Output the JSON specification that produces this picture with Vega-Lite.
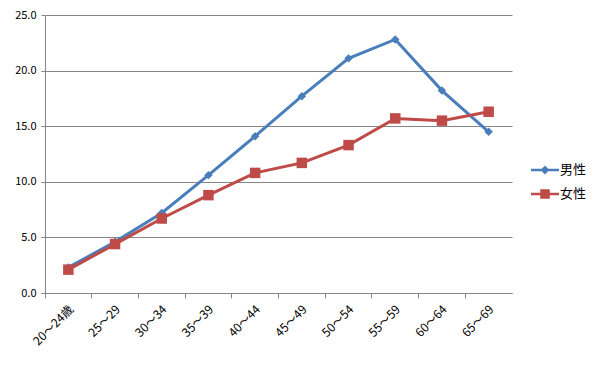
{
  "$schema": "https://vega.github.io/schema/vega-lite/v6.json",
  "autosize": "none",
  "width": 467,
  "height": 278,
  "padding": {"left": 45, "top": 15, "right": 94, "bottom": 72},
  "background": "white",
  "config": {
    "view": {"stroke": null},
    "font": "Noto Sans CJK JP",
    "axis": {"labelFont": "Noto Sans CJK JP", "labelColor": "#000000", "labelFontSize": 11, "domainColor": "#868686", "tickColor": "#868686", "gridColor": "#868686", "gridOpacity": 1}
  },
  "data": {"values": [
    {"age": "20～24歳", "sex": "男性", "v": 2.3},
    {"age": "25～29", "sex": "男性", "v": 4.6},
    {"age": "30～34", "sex": "男性", "v": 7.2},
    {"age": "35～39", "sex": "男性", "v": 10.6},
    {"age": "40～44", "sex": "男性", "v": 14.1},
    {"age": "45～49", "sex": "男性", "v": 17.7},
    {"age": "50～54", "sex": "男性", "v": 21.1},
    {"age": "55～59", "sex": "男性", "v": 22.8},
    {"age": "60～64", "sex": "男性", "v": 18.2},
    {"age": "65～69", "sex": "男性", "v": 14.5},
    {"age": "20～24歳", "sex": "女性", "v": 2.1},
    {"age": "25～29", "sex": "女性", "v": 4.4},
    {"age": "30～34", "sex": "女性", "v": 6.7},
    {"age": "35～39", "sex": "女性", "v": 8.8},
    {"age": "40～44", "sex": "女性", "v": 10.8},
    {"age": "45～49", "sex": "女性", "v": 11.7},
    {"age": "50～54", "sex": "女性", "v": 13.3},
    {"age": "55～59", "sex": "女性", "v": 15.7},
    {"age": "60～64", "sex": "女性", "v": 15.5},
    {"age": "65～69", "sex": "女性", "v": 16.3}
  ]},
  "encoding": {
    "x": {"field": "age", "type": "nominal", "sort": null,
      "scale": {"type": "band", "paddingInner": 0, "paddingOuter": 0},
      "axis": {"title": null, "bandPosition": 0, "labelOffset": 3, "labelAngle": -45, "labelAlign": "right", "labelBaseline": "middle", "labelFontSize": 12, "tickSize": 5, "labelPadding": 9, "grid": false}},
    "y": {"field": "v", "type": "quantitative",
      "scale": {"domain": [0, 25], "nice": false},
      "axis": {"title": null, "values": [0, 5, 10, 15, 20, 25], "format": ".1f", "tickSize": 4, "labelPadding": 5, "grid": true}}
  },
  "layer": [
    {"mark": {"type": "line", "strokeWidth": 3},
      "encoding": {"color": {"field": "sex", "type": "nominal", "scale": {"domain": ["男性", "女性"], "range": ["#4A7EBB", "#BE4B48"]}, "legend": null}}},
    {"mark": {"type": "point", "filled": true, "opacity": 1},
      "encoding": {
        "color": {"field": "sex", "type": "nominal", "scale": {"domain": ["男性", "女性"], "range": ["#4A7EBB", "#BE4B48"]}, "legend": null},
        "shape": {"field": "sex", "type": "nominal", "scale": {"domain": ["男性", "女性"], "range": ["diamond", "square"]}, "legend": null},
        "size": {"field": "sex", "type": "nominal", "scale": {"domain": ["男性", "女性"], "range": [72, 110]}, "legend": null}
      }},
    {"transform": [{"filter": "datum.v < 0"}],
      "mark": {"type": "point", "filled": true, "opacity": 1},
      "encoding": {
        "color": {"field": "sex", "type": "nominal", "scale": {"domain": ["男性", "女性"], "range": ["#4A7EBB", "#BE4B48"]},
          "legend": {"title": null, "orient": "none", "legendX": 486, "legendY": 141, "symbolSize": 784, "labelFontSize": 13, "labelFont": "Noto Sans CJK JP", "labelColor": "#000000", "rowPadding": 3, "labelOffset": 1, "symbolStrokeWidth": 0}},
        "shape": {"field": "sex", "type": "nominal",
          "scale": {"domain": ["男性", "女性"], "range": [
            "M-1,-0.09 L-0.23,-0.09 L0,-0.32 L0.23,-0.09 L1,-0.09 L1,0.09 L0.23,0.09 L0,0.32 L-0.23,0.09 L-1,0.09 Z",
            "M-1,-0.09 L-0.34,-0.09 L-0.34,-0.34 L0.34,-0.34 L0.34,-0.09 L1,-0.09 L1,0.09 L0.34,0.09 L0.34,0.34 L-0.34,0.34 L-0.34,0.09 L-1,0.09 Z"]},
          "legend": {"title": null, "orient": "none", "legendX": 486, "legendY": 141, "symbolSize": 784, "labelFontSize": 13, "labelFont": "Noto Sans CJK JP", "labelColor": "#000000", "rowPadding": 3, "labelOffset": 1, "symbolStrokeWidth": 0}}
      }}
  ],
  "resolve": {"scale": {"shape": "independent", "color": "independent"}}
}
